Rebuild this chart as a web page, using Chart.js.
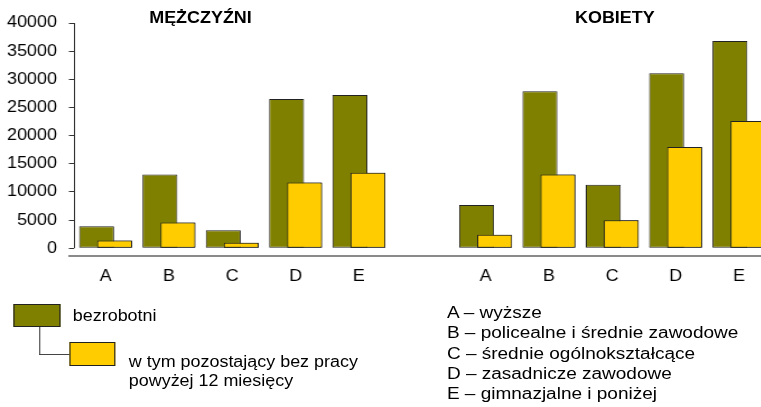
<!DOCTYPE html>
<html lang="pl">
<head>
<meta charset="utf-8">
<script src="https://cdn.jsdelivr.net/npm/chart.js@4.4.0/dist/chart.umd.min.js"></script>
<style>
    body { margin: 0; background: #fff; overflow: hidden; width: 761px; height: 407px; font-family: "Liberation Sans", Arial, sans-serif; color: #000; }
    /* the whole picture is a bit wider than tall, so draw narrow and stretch */
    #wrap { position: absolute; left: 0; top: 0; width: 690px; height: 407px; transform: scaleX(1.12); transform-origin: 0 0; }
    #chart { position: absolute; left: 0; top: 0; }
    .txt { position: absolute; font-size: 16px; line-height: 16px; white-space: pre; }
    .title { font-weight: bold; transform: translateX(-50%); }
    .box { position: absolute; border: 1px solid #222; box-sizing: border-box; }
    .link { position: absolute; border-left: 1px solid #444; border-bottom: 1px solid #444; }
    #cat-legend { transform: scaleX(1.06); transform-origin: 0 0; }
</style>
</head>
<body>
<div id="wrap">
    <canvas id="chart" width="688" height="290"></canvas>
    <div class="txt title" id="title-0" style="left: 179px; top: 10px;"></div>
    <div class="txt title" id="title-1" style="left: 549px; top: 10px;"></div>

    <div class="box" id="box-0" style="left: 12px; top: 304px; width: 42px; height: 23px;"></div>
    <div class="link" style="left: 35px; top: 327px; width: 28px; height: 27px;"></div>
    <div class="box" id="box-1" style="left: 62px; top: 342px; width: 41px; height: 24px;"></div>
    <div class="txt" id="series-0" style="left: 65px; top: 308px;"></div>
    <div class="txt" id="series-1" style="left: 115px; top: 352px; line-height: 19px;"></div>

    <div class="txt" id="cat-legend" style="left: 399px; top: 303px; line-height: 20.3px;"></div>
</div>

<script>
// Data
const categories = ['A', 'B', 'C', 'D', 'E'];
const groupTitles = ['MĘŻCZYŹNI', 'KOBIETY'];
const menTotal = [3900, 13100, 3200, 26500, 27200];
const menLongTerm = [1400, 4600, 1000, 11700, 13400];
const womenTotal = [7700, 27900, 11300, 31100, 36800];
const womenLongTerm = [2400, 13100, 5000, 18000, 22600];
const yTicks = [0, 5000, 10000, 15000, 20000, 25000, 30000, 35000, 40000];
const seriesNames = ['bezrobotni', 'w tym pozostający bez pracy\npowyżej 12 miesięcy'];
const categoryNames = ['wyższe', 'policealne i średnie zawodowe', 'średnie ogólnokształcące', 'zasadnicze zawodowe', 'gimnazjalne i poniżej'];
const colors = ['#808000', '#ffcc00'];

document.addEventListener('DOMContentLoaded', function() {
    // Texts around the chart
    groupTitles.forEach((t, i) => {
        document.getElementById('title-' + i).textContent = t;
    });
    seriesNames.forEach((name, i) => {
        document.getElementById('series-' + i).textContent = name;
        document.getElementById('box-' + i).style.background = colors[i];
    });
    document.getElementById('cat-legend').textContent =
        categories.map((c, i) => c + ' – ' + categoryNames[i]).join('\n');

    initChart();
});

// Olive bars sit behind the yellow ones, so draw the yellow set once more on top
const yellowOnTop = {
    id: 'yellowOnTop',
    afterDatasetsDraw(chart) {
        const ctx = chart.ctx;
        ctx.save();
        chart.getDatasetMeta(1).controller.draw();
        ctx.restore();
    }
};

// Axis lines: value axis only spans 0..max, category line sits a bit lower
const axisLines = {
    id: 'axisLines',
    afterDraw(chart) {
        const { ctx, chartArea } = chart;
        const y = chart.scales.y;
        ctx.save();
        ctx.strokeStyle = '#333';
        ctx.lineWidth = 1;
        ctx.beginPath();
        ctx.moveTo(chartArea.left + 0.5, y.getPixelForValue(yTicks[yTicks.length - 1]));
        ctx.lineTo(chartArea.left + 0.5, y.getPixelForValue(0));
        ctx.stroke();

        ctx.strokeStyle = '#8a8a8a';
        ctx.lineWidth = 2;
        ctx.beginPath();
        ctx.moveTo(chartArea.left - 5, chartArea.bottom);
        ctx.lineTo(chartArea.right, chartArea.bottom);
        ctx.stroke();
        ctx.restore();
    }
};

function initChart() {
    const labels = [...categories, '', ...categories];
    const ctx = document.getElementById('chart').getContext('2d');
    const font = { family: '"Liberation Sans", Arial, sans-serif', size: 16 };

    new Chart(ctx, {
        type: 'bar',
        data: {
            labels: labels,
            datasets: [{
                label: 'bezrobotni',
                data: [...menTotal, null, ...womenTotal],
                backgroundColor: colors[0],
                borderColor: '#222',
                borderWidth: 1,
                borderSkipped: false
            }, {
                label: 'powyżej 12 miesięcy',
                data: [...menLongTerm, null, ...womenLongTerm],
                backgroundColor: colors[1],
                borderColor: '#222',
                borderWidth: 1,
                borderSkipped: false
            }]
        },
        options: {
            responsive: false,
            animation: false,
            categoryPercentage: 0.569,
            barPercentage: 1.94,
            layout: { padding: { top: 23, left: 0, right: 0, bottom: 0 } },
            plugins: {
                legend: { display: false },
                tooltip: { enabled: false }
            },
            scales: {
                x: {
                    grid: { display: false },
                    border: { display: false },
                    ticks: { color: '#000', font: font, padding: 3, autoSkip: false, maxRotation: 0 },
                    afterFit: axis => { axis.height = 34; }
                },
                y: {
                    min: -1365,
                    max: 40000,
                    grid: { display: true, drawOnChartArea: false, drawTicks: true, tickLength: 4.5, color: '#333' },
                    border: { display: false },
                    ticks: { color: '#000', font: font, padding: 10.7, callback: v => String(v) },
                    afterBuildTicks: axis => { axis.ticks = yTicks.map(v => ({ value: v })); },
                    afterFit: axis => { axis.width = 66; }
                }
            }
        },
        plugins: [yellowOnTop, axisLines]
    });
}
</script>
</body>
</html>
